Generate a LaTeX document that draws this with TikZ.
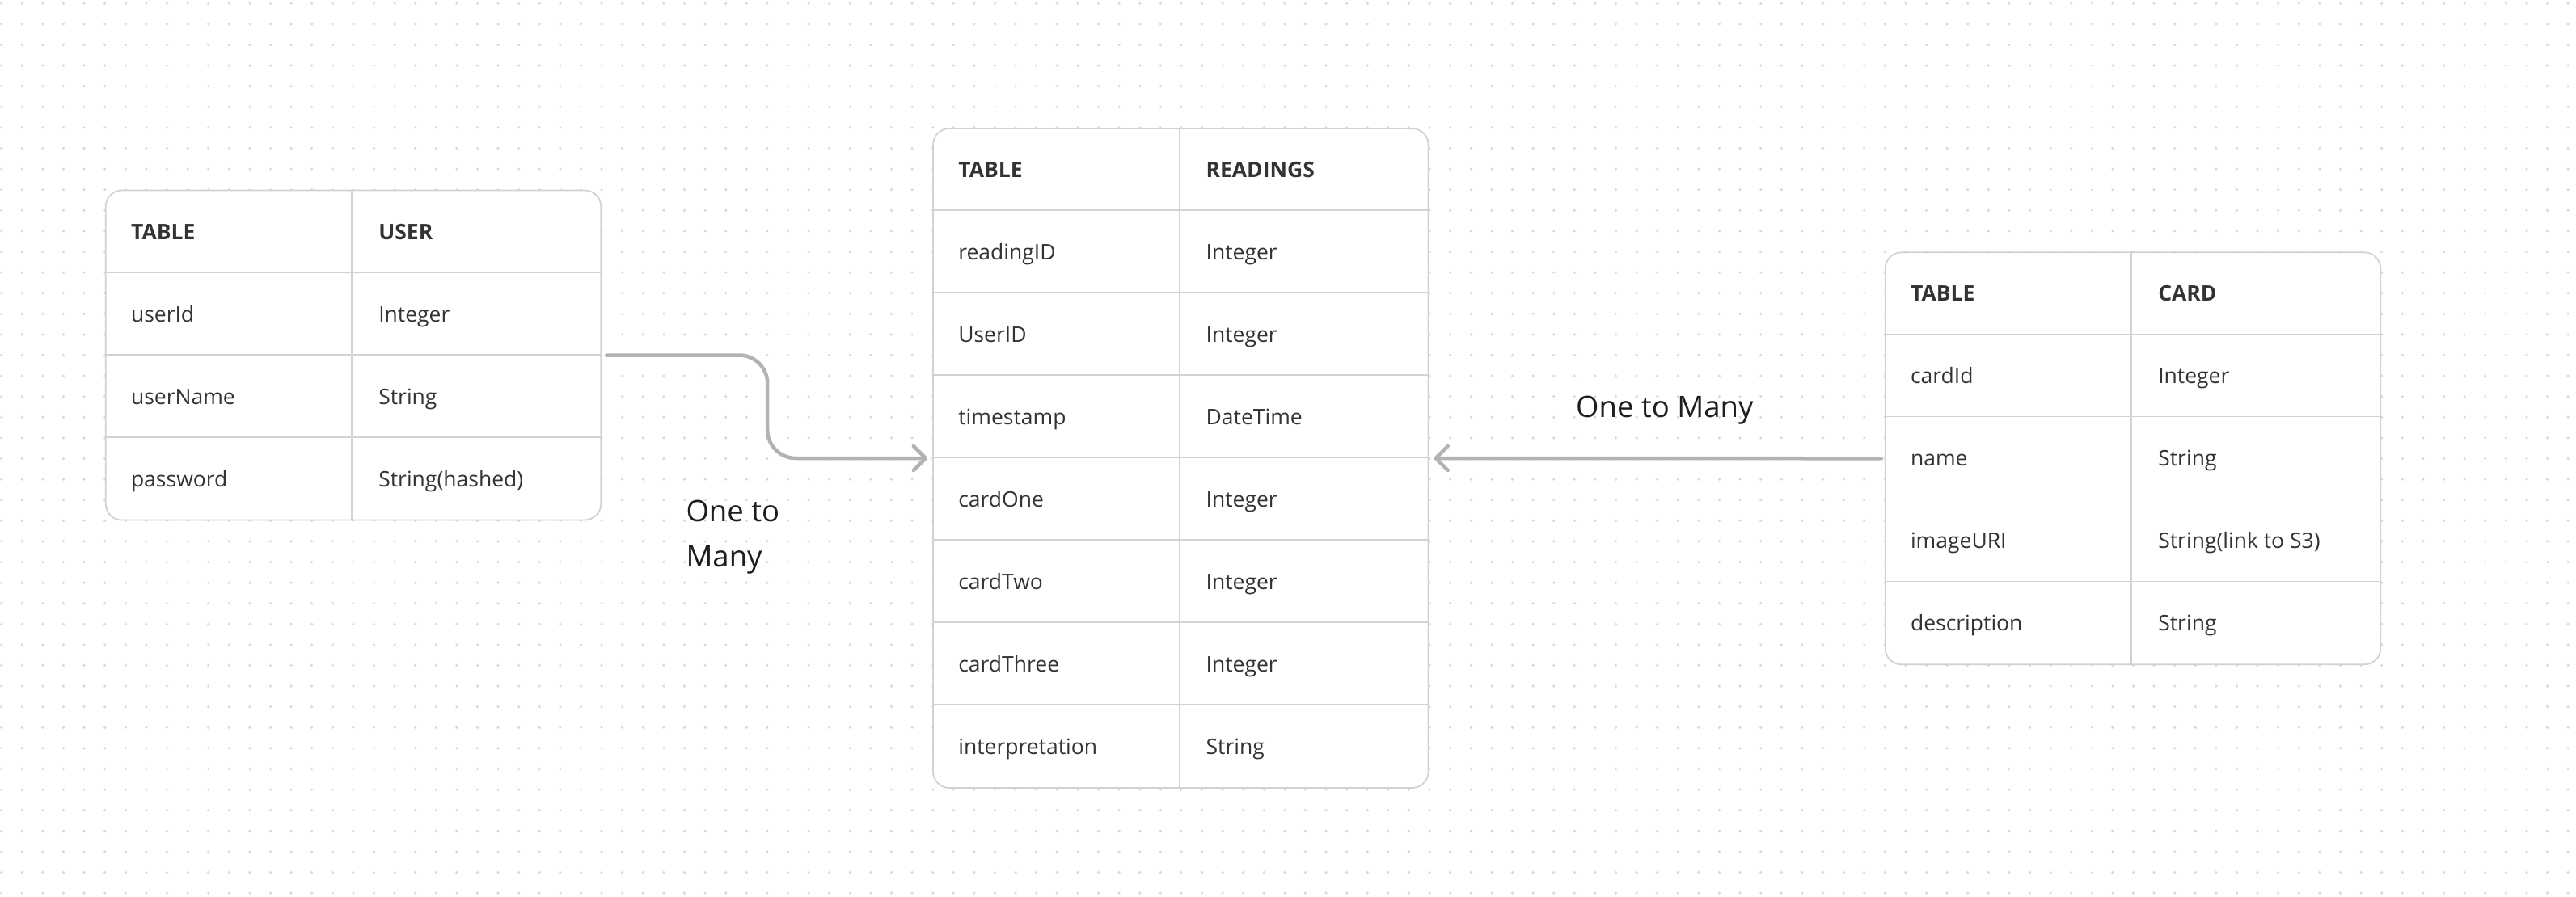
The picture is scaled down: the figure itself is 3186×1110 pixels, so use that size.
\documentclass[tikz,border=0pt]{standalone}
\usepackage{fontspec}
\setmainfont{Open Sans}
\usetikzlibrary{arrows.meta,positioning}

\definecolor{framegray}{HTML}{D2D2D2}
\definecolor{textdark}{HTML}{333333}
\definecolor{labeldark}{HTML}{1E1E1E}
\definecolor{arrowgray}{HTML}{B3B3B3}
\definecolor{dotgray}{HTML}{D9D9D9}

\tikzstyle{tableframe} = [draw=framegray, line width=1.8pt, fill=white, rounded corners=20pt, minimum width=612.6pt, inner sep=0pt]
\tikzstyle{gridline} = [draw=framegray, line width=1.8pt]
\tikzstyle{celltext} = [font=\fontsize{26.5}{32}\selectfont, text=textdark, anchor=base west, inner sep=0pt]
\tikzstyle{headtext} = [celltext, font=\fontsize{26.5}{32}\selectfont\bfseries]
\tikzstyle{relation} = [draw=arrowgray, line width=4.5pt, line cap=round, -{Straight Barb[length=15pt,width=30pt,round]}, shorten <=6pt, shorten >=6pt]
\tikzstyle{relabel} = [font=\fontsize{36.5}{44}\selectfont, text=labeldark, anchor=base west, inner sep=0pt]
\tikzstyle{griddot} = [draw=dotgray, line width=3.5pt, line cap=round, dash pattern=on 0pt off 25.6pt]

\begin{document}
\begin{tikzpicture}[x=1pt, y=-1pt]
      \path[fill=white, use as bounding box] (0,0) rectangle (3186,1110);
      %dot grid
      \foreach \k in {0,...,43}
        \draw[griddot] (1.7,{4.3+25.6*\k}) -- (3190,{4.3+25.6*\k});

      %tables
      \foreach \tbl/\x/\y/\nrows in {user/437/439.5/4, readings/1460.3/567/8, card/2638/567.3/5}
      {
        \node[tableframe, minimum height=\nrows*102pt] (\tbl) at (\x,\y) {};
      };
      \foreach \tbl/\nlines in {user/3, readings/7, card/4}
      {
        \foreach \k in {1,...,\nlines}
          \draw[gridline] ([yshift=-\k*102pt]\tbl.north west) -- ([yshift=-\k*102pt]\tbl.north east);
        \draw[gridline] ([xshift=305.3pt]\tbl.north west) -- ([xshift=305.3pt]\tbl.south west);
      };

      %headers
      \foreach \tbl/\title in {user/USER, readings/READINGS, card/CARD}
      {
        \node[headtext] (\tbl-head-key) at ([xshift=32pt, yshift=-61.5pt]\tbl.north west) {TABLE};
        \node[headtext] (\tbl-head-type) at ([xshift=338.3pt, yshift=-61.5pt]\tbl.north west) {\title};
      };

      %rows
      \foreach \name/\type [count=\rowno] in {userId/Integer, userName/String, password/String(hashed)}
      {
        \node[celltext] (user-key-\rowno) at ([xshift=32pt, yshift={-(\rowno*102+61.5)*1pt}]user.north west) {\name};
        \node[celltext] (user-type-\rowno) at ([xshift=338.3pt, yshift={-(\rowno*102+61.5)*1pt}]user.north west) {\type};
      };
      \foreach \name/\type [count=\rowno] in {readingID/Integer, UserID/Integer, timestamp/DateTime, cardOne/Integer,
        cardTwo/Integer, cardThree/Integer, interpretation/String}
      {
        \node[celltext] (readings-key-\rowno) at ([xshift=32pt, yshift={-(\rowno*102+61.5)*1pt}]readings.north west) {\name};
        \node[celltext] (readings-type-\rowno) at ([xshift=338.3pt, yshift={-(\rowno*102+61.5)*1pt}]readings.north west) {\type};
      };
      \foreach \name/\type [count=\rowno] in {cardId/Integer, name/String, imageURI/String(link to S3), description/String}
      {
        \node[celltext] (card-key-\rowno) at ([xshift=32pt, yshift={-(\rowno*102+61.5)*1pt}]card.north west) {\name};
        \node[celltext] (card-type-\rowno) at ([xshift=338.3pt, yshift={-(\rowno*102+61.5)*1pt}]card.north west) {\type};
      };

      %relations
      \draw[relation, rounded corners=35pt] (user.east) -- ++(205,0) |- (readings.west);
      \draw[relation, shorten <=4pt] (card.west) -- (readings.east);
      \node[relabel] (user-rel-one) at (848.3,645) {One to};
      \node[relabel] (user-rel-many) at ([yshift=-56.7pt]user-rel-one.base west) {Many};
      \node[relabel] (card-rel) at (1949,516) {One to Many};
    \end{tikzpicture}
\end{document}
